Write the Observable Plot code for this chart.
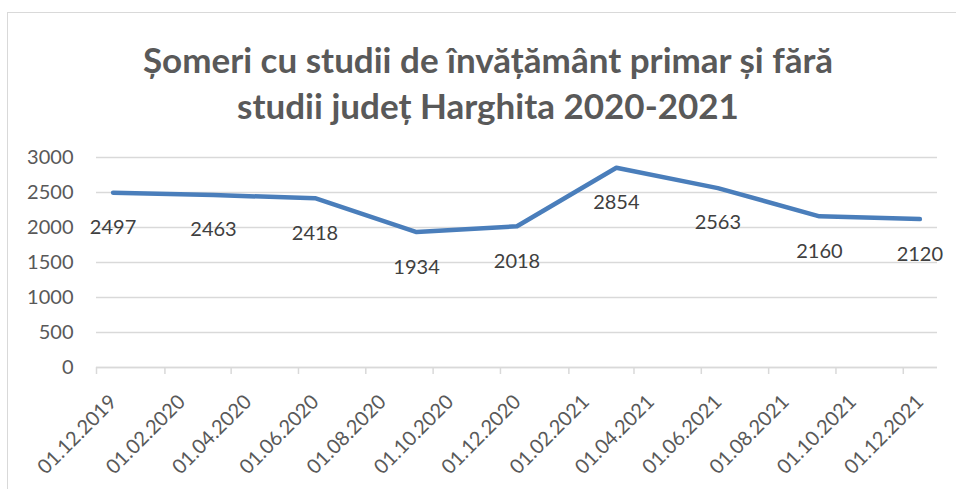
<!DOCTYPE html>
<html><head><meta charset="utf-8">
<script src="https://cdn.jsdelivr.net/npm/d3@7"></script>
<script src="https://cdn.jsdelivr.net/npm/@observablehq/plot@0.6"></script>
<style>
body{margin:0;background:#fff;}
#wrap{position:relative;width:956px;height:489px;overflow:hidden;font-family:Lato,sans-serif;}
#frame{position:absolute;left:7px;top:12px;width:1000px;height:1000px;border-left:1.5px solid #d9d9d9;border-top:1.5px solid #d9d9d9;}
#title{position:absolute;left:0;width:976px;top:35.5px;text-align:center;font-weight:bold;font-size:35px;line-height:46px;color:#595959;}
#chart{position:absolute;left:0;top:140px;}
</style></head>
<body><div id="wrap"><div id="frame"></div><div id="title">Șomeri cu studii de învățământ primar și fără<br>studii județ Harghita 2020-2021</div><div id="chart"></div></div>
<script>
const dates = ["2019-12-16","2020-03-16","2020-06-16","2020-09-16","2020-12-16","2021-03-16","2021-06-16","2021-09-16","2021-12-16"];
const values = [2497, 2463, 2418, 1934, 2018, 2854, 2563, 2160, 2120];
const tickDates = ["2019-12-01","2020-02-01","2020-04-01","2020-06-01","2020-08-01","2020-10-01","2020-12-01","2021-02-01","2021-04-01","2021-06-01","2021-08-01","2021-10-01","2021-12-01"];
const yTicks = [0, 500, 1000, 1500, 2000, 2500, 3000];
const xDomain = ["2019-12-01", "2022-01-01"];

const data = dates.map((d, i) => ({date: new Date(d), value: values[i]}));
const fmt = d3.utcFormat("%d.%m.%Y");
const xTicks = tickDates.map(d => new Date(d));

const plot = Plot.plot({
  width: 956, height: 349,
  marginLeft: 96, marginRight: 19, marginTop: 17, marginBottom: 122,
  style: {fontFamily: "Lato, sans-serif", fontSize: "20px", color: "#595959", background: "transparent", overflow: "visible"},
  x: {type: "utc", domain: xDomain.map(d => new Date(d))},
  y: {domain: [0, 3000]},
  marks: [
    Plot.gridY(yTicks, {stroke: "#d9d9d9", strokeOpacity: 1, strokeWidth: 1.3}),
    Plot.ruleY([0], {stroke: "#d9d9d9", strokeWidth: 1.5}),
    Plot.axisY(yTicks, {tickSize: 0, tickPadding: 23, fill: "#595959", fontSize: 20, tickFormat: d => String(d), label: null}),
    Plot.axisX(xTicks, {tickSize: 7, stroke: "#d9d9d9", strokeWidth: 1.5, tickFormat: () => "", label: null}),
    Plot.axisX(xTicks, {tickSize: 0, tickPadding: 3, fill: "#595959", tickRotate: -45, tickFormat: fmt, fontSize: 20, dx: 17, dy: 28, label: null}),
    Plot.line(data, {x: "date", y: "value", stroke: "#4a7ebb", strokeWidth: 4.5, strokeLinecap: "round", strokeLinejoin: "round"}),
    Plot.text(data, {x: "date", y: "value", text: d => String(d.value), dy: 35, fill: "#404040", fontSize: 20})
  ]
});
document.getElementById("chart").appendChild(plot);
</script>
</body></html>
